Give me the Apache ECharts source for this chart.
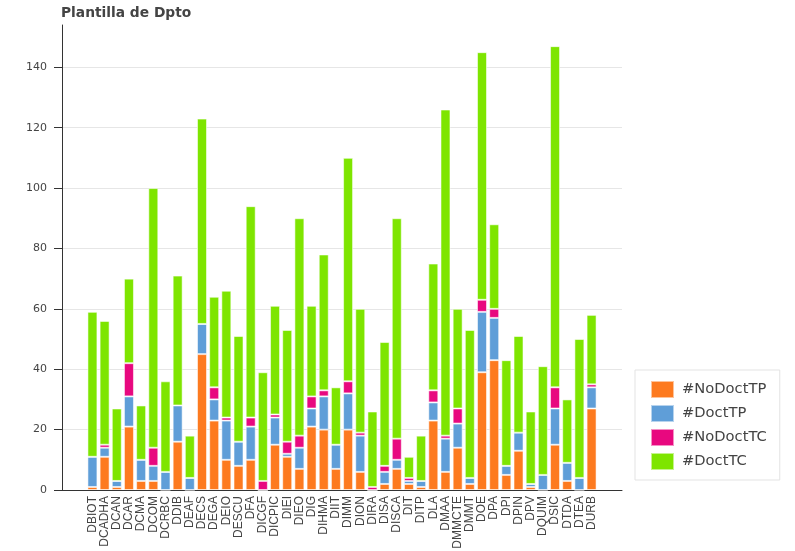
<!DOCTYPE html>
<html>
<head>
<meta charset="utf-8">
<script src="https://cdn.jsdelivr.net/npm/echarts@6/dist/echarts.min.js"></script>
<style>
html, body { margin: 0; padding: 0; background: #fff; }
#main { width: 795px; height: 551px; }
</style>
</head>
<body>
<div id="main"></div>
<script>
// departamentos
var departamentos = ['DBIOT', 'DCADHA', 'DCAN', 'DCAR', 'DCMA', 'DCOM', 'DCRBC', 'DDIB', 'DEAF', 'DECS',
	'DEGA', 'DEIO', 'DESCU', 'DFA', 'DICGF', 'DICPIC', 'DIEI', 'DIEO', 'DIG', 'DIHMA',
	'DIIT', 'DIMM', 'DION', 'DIRA', 'DISA', 'DISCA', 'DIT', 'DITP', 'DLA', 'DMAA',
	'DMMCTE', 'DMMT', 'DOE', 'DPA', 'DPI', 'DPIN', 'DPV', 'DQUIM', 'DSIC', 'DTDA',
	'DTEA', 'DURB'];

// valores de cada serie (apiladas)
var noDoctTP = [1, 11, 1, 21, 3, 3, 0, 16, 0, 45,
	23, 10, 8, 10, 0, 15, 11, 7, 21, 20,
	7, 20, 6, 0, 2, 7, 2, 1, 23, 6,
	14, 2, 39, 43, 5, 13, 1, 0, 15, 3,
	0, 27];
var doctTP = [10, 3, 2, 10, 7, 5, 6, 12, 4, 10,
	7, 13, 8, 11, 0, 9, 1, 7, 6, 11,
	8, 12, 12, 0, 4, 3, 1, 2, 6, 11,
	8, 2, 20, 14, 3, 6, 1, 5, 12, 6,
	4, 7];
var noDoctTC = [0, 1, 0, 11, 0, 6, 0, 0, 0, 0,
	4, 1, 0, 3, 3, 1, 4, 4, 4, 2,
	0, 4, 1, 1, 2, 7, 1, 0, 4, 1,
	5, 0, 4, 3, 0, 0, 0, 0, 7, 0,
	0, 1];
var doctTC = [48, 41, 24, 28, 18, 86, 30, 43, 14, 68,
	30, 42, 35, 70, 36, 36, 37, 72, 30, 45,
	19, 74, 41, 25, 41, 73, 7, 15, 42, 108,
	33, 49, 82, 28, 35, 32, 24, 36, 113, 21,
	46, 23];

var yTicks = [0, 20, 40, 60, 80, 100, 120, 140];

var nombres = ['#NoDoctTP', '#DoctTP', '#NoDoctTC', '#DoctTC'];
var colores = ['#fd7a1f', '#5f9ed8', '#e8087f', '#7ee500'];

// huecos a ambos lados del eje (como en el original)
var PAD = 2;
function conHuecos(arr, relleno) {
	var res = [];
	for (var i = 0; i < PAD; i++) res.push(relleno === '' ? ' '.repeat(i + 1) : relleno);
	for (var j = 0; j < arr.length; j++) res.push(arr[j]);
	for (var k = 0; k < PAD; k++) res.push(relleno === '' ? ' '.repeat(PAD + k + 1) : relleno);
	return res;
}

var fuente = 'Liberation Sans, Arial, sans-serif';
var fuenteAncha = 'DejaVu Sans, Verdana, sans-serif';
var valores = [noDoctTP, doctTP, noDoctTC, doctTC];
var series = [];
for (var s = 0; s < nombres.length; s++) {
	series.push({
		name: nombres[s],
		type: 'bar',
		stack: 'total',
		barWidth: 10,
		itemStyle: {
			color: colores[s],
			borderColor: 'rgba(255,255,255,0.55)',
			borderWidth: 1
		},
		data: conHuecos(valores[s], '-')
	});
}

var myChart = echarts.init(document.getElementById('main'));
myChart.setOption({
	animation: false,
	textStyle: { fontFamily: fuente },
	title: {
		text: 'Plantilla de Dpto',
		left: 61,
		top: 6,
		padding: 0,
		textStyle: { fontSize: 13.8, fontWeight: 'bold', color: '#444', fontFamily: fuenteAncha }
	},
	legend: {
		orient: 'vertical',
		left: 635,
		top: 370,
		padding: [10, 13, 9, 15],
		itemWidth: 23,
		itemHeight: 17,
		itemGap: 5,
		borderColor: '#e3e3e3',
		borderWidth: 1,
		backgroundColor: '#fff',
		icon: 'rect',
		textStyle: { fontSize: 14.7, lineHeight: 17, color: '#444', fontFamily: fuenteAncha, padding: [0, 0, 0, 3] },
		data: nombres
	},
	grid: {
		left: 62,
		right: 173,
		top: 25,
		bottom: 61,
		containLabel: false,
		outerBoundsMode: 'none'
	},
	xAxis: {
		type: 'category',
		data: conHuecos(departamentos, ''),
		axisLine: { lineStyle: { color: '#333', width: 1 } },
		axisTick: {
			alignWithLabel: true,
			length: 5,
			lineStyle: { color: '#333' },
			interval: function (idx, val) { return val.trim() !== ''; }
		},
		axisLabel: {
			interval: 0,
			rotate: 90,
			fontSize: 12,
			color: '#444',
			margin: 6,
			fontFamily: fuente
		}
	},
	yAxis: {
		type: 'value',
		min: yTicks[0],
		max: 154,
		interval: 20,
		axisLine: { show: true, lineStyle: { color: '#333', width: 1 } },
		axisTick: { show: true, length: 8, lineStyle: { color: '#333' } },
		axisLabel: {
			fontSize: 11,
			color: '#444',
			margin: 15,
			fontFamily: fuenteAncha,
			showMaxLabel: false,
			formatter: function (v) { return yTicks.indexOf(v) >= 0 ? String(v) : ''; }
		},
		splitLine: { show: true, showMaxLine: false, lineStyle: { color: '#e6e6e6' } }
	},
	series: series
});
</script>
</body>
</html>
